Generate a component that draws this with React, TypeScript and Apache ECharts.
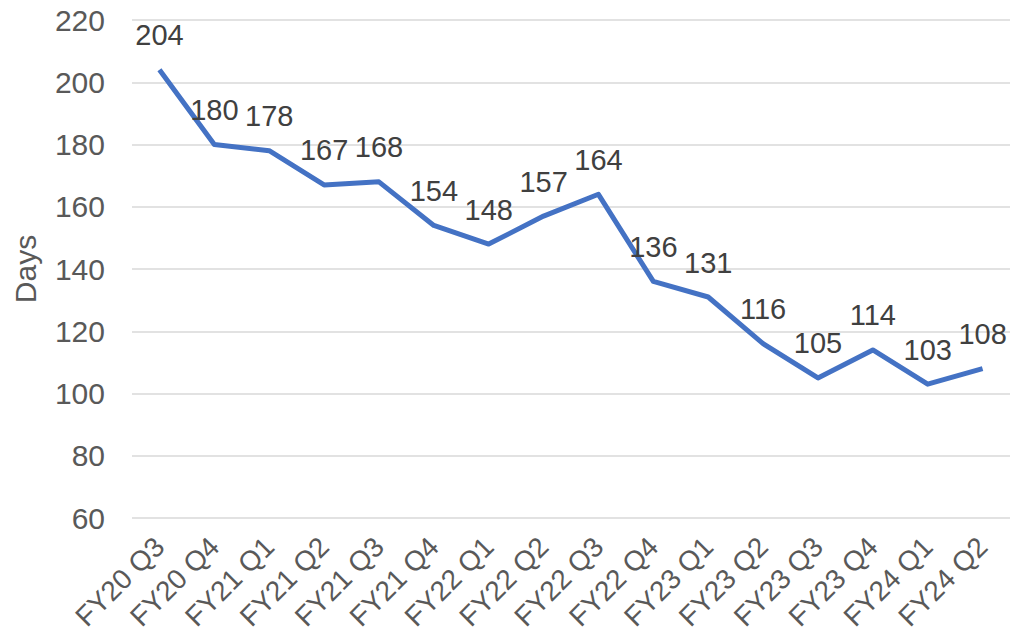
import React, { useEffect, useRef } from "react";
import * as echarts from "echarts";

const categories = [
  "FY20 Q3", "FY20 Q4", "FY21 Q1", "FY21 Q2", "FY21 Q3", "FY21 Q4",
  "FY22 Q1", "FY22 Q2", "FY22 Q3", "FY22 Q4", "FY23 Q1", "FY23 Q2",
  "FY23 Q3", "FY23 Q4", "FY24 Q1", "FY24 Q2",
];
const days = [204, 180, 178, 167, 168, 154, 148, 157, 164, 136, 131, 116, 105, 114, 103, 108];
const yMin = 60;
const yMax = 220;
const yInterval = 20;

export default function App() {
  const ref = useRef<HTMLDivElement>(null);
  useEffect(() => {
    const chart = echarts.init(ref.current!, null, { renderer: "svg" });
    const font = "'Liberation Sans', Arial, sans-serif";
    const textColor = "#595959";
    chart.setOption({
      animation: false,
      backgroundColor: "#ffffff",
      grid: {
        left: 132,
        right: 14,
        top: 20,
        bottom: 121,
        containLabel: false,
        outerBoundsMode: "none",
      },
      xAxis: {
        type: "category",
        data: categories,
        boundaryGap: true,
        axisLine: { show: false },
        axisTick: { show: false },
        axisLabel: {
          rotate: 45,
          interval: 0,
          margin: 24,
          fontSize: 28,
          color: textColor,
          fontFamily: font,
        },
      },
      yAxis: {
        type: "value",
        min: yMin,
        max: yMax,
        interval: yInterval,
        name: "Days",
        nameLocation: "middle",
        nameGap: 92,
        nameTextStyle: { fontSize: 30, color: textColor, fontFamily: font },
        axisLine: { show: false },
        axisTick: { show: false },
        axisLabel: { fontSize: 30, color: textColor, fontFamily: font, margin: 27 },
        splitLine: { lineStyle: { color: "#D9D9D9", width: 1.5 } },
      },
      series: [
        {
          type: "line",
          data: days,
          symbol: "circle",
          showSymbol: true,
          symbolSize: 0,
          lineStyle: { color: "#4472C4", width: 5, join: "round" },
          itemStyle: { color: "#4472C4" },
          label: {
            show: true,
            position: "top",
            distance: 20,
            fontSize: 29,
            color: "#404040",
            fontFamily: font,
          },
        },
      ],
    });
    return () => chart.dispose();
  }, []);
  return (
    <div
      ref={ref}
      style={{ position: "fixed", left: 0, top: 0, width: 1024, height: 639 }}
    />
  );
}
